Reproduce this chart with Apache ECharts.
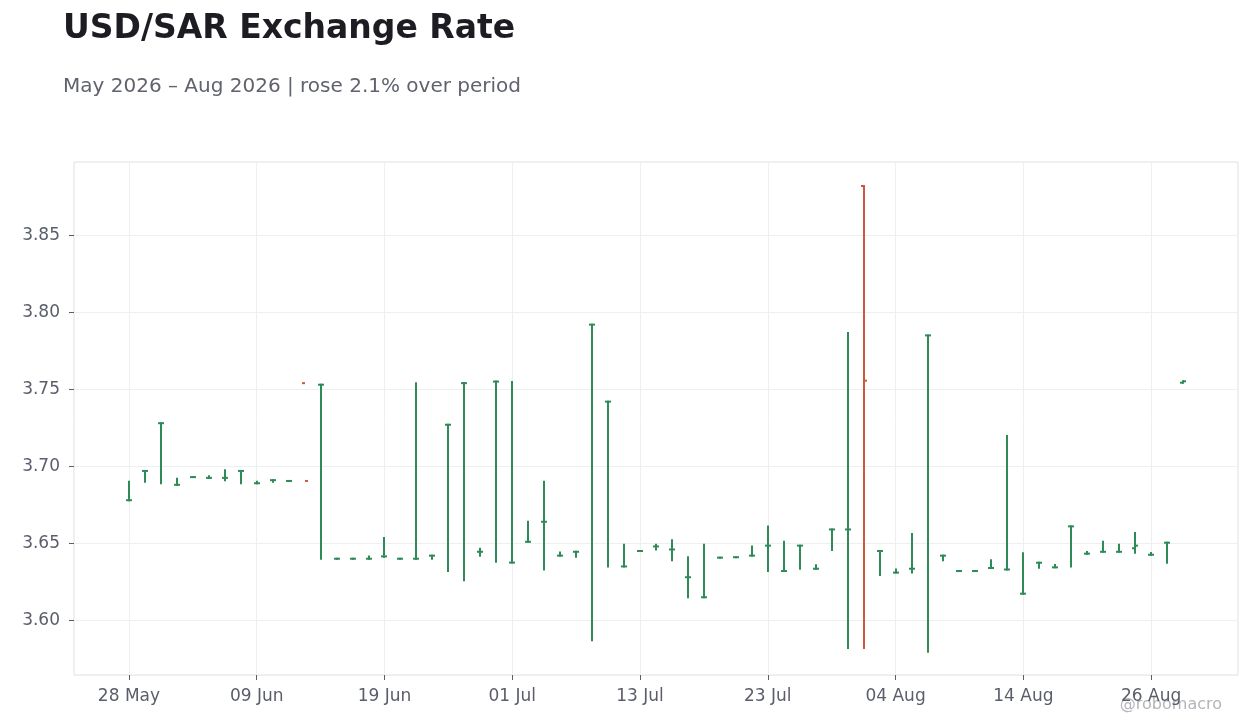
<!DOCTYPE html>
<html>
<head>
<meta charset="utf-8">
<title>USD/SAR Exchange Rate</title>
<script src="https://cdn.jsdelivr.net/npm/echarts@6/dist/echarts.min.js"></script>
<style>
    html, body { margin: 0; padding: 0; background: #ffffff; }
    #chart { width: 1260px; height: 728px; }
</style>
</head>
<body>
<div id="chart"></div>
<script>
// trading days (business days only)
const dates = [
    '2026-05-28', '2026-05-29', '2026-06-01', '2026-06-02', '2026-06-03', '2026-06-04', '2026-06-05',
    '2026-06-08', '2026-06-09', '2026-06-10', '2026-06-11', '2026-06-12', '2026-06-15', '2026-06-16',
    '2026-06-17', '2026-06-18', '2026-06-19', '2026-06-22', '2026-06-23', '2026-06-24', '2026-06-25',
    '2026-06-26', '2026-06-29', '2026-06-30', '2026-07-01', '2026-07-02', '2026-07-03', '2026-07-06',
    '2026-07-07', '2026-07-08', '2026-07-09', '2026-07-10', '2026-07-13', '2026-07-14', '2026-07-15',
    '2026-07-16', '2026-07-17', '2026-07-20', '2026-07-21', '2026-07-22', '2026-07-23', '2026-07-24',
    '2026-07-27', '2026-07-28', '2026-07-29', '2026-07-30', '2026-07-31', '2026-08-03', '2026-08-04',
    '2026-08-05', '2026-08-06', '2026-08-07', '2026-08-10', '2026-08-11', '2026-08-12', '2026-08-13',
    '2026-08-14', '2026-08-17', '2026-08-18', '2026-08-19', '2026-08-20', '2026-08-21', '2026-08-24',
    '2026-08-25', '2026-08-26', '2026-08-27', '2026-08-28'
];

const opens = [
    3.678, 3.697, 3.728, 3.688, 3.693, 3.6925, 3.6925,
    3.697, 3.689, 3.691, 3.6905, 3.754, 3.753, 3.640,
    3.640, 3.640, 3.6415, 3.640, 3.640, 3.642, 3.727,
    3.754, 3.6445, 3.755, 3.6375, 3.651, 3.664, 3.642,
    3.6445, 3.792, 3.742, 3.635, 3.645, 3.648, 3.646,
    3.628, 3.615, 3.6407, 3.641, 3.642, 3.6485, 3.632,
    3.6485, 3.6335, 3.659, 3.659, 3.882, 3.645, 3.631,
    3.6335, 3.785, 3.642, 3.632, 3.632, 3.634, 3.633,
    3.6173, 3.6374, 3.6344, 3.661, 3.6433, 3.6445, 3.6445,
    3.6468, 3.6426, 3.6504, 3.7543
];

const highs = [
    3.690, 3.697, 3.728, 3.692, 3.693, 3.6935, 3.6975,
    3.697, 3.690, 3.691, 3.6905, null, 3.753, 3.640,
    3.640, 3.6415, 3.6535, 3.640, 3.754, 3.642, 3.727,
    3.754, 3.6465, 3.755, 3.7547, 3.664, 3.690, 3.644,
    3.6445, 3.792, 3.742, 3.649, 3.645, 3.649, 3.652,
    3.641, 3.649, 3.6407, 3.641, 3.648, 3.661, 3.651,
    3.6485, 3.6357, 3.659, 3.7865, 3.882, 3.645, 3.633,
    3.656, 3.785, 3.642, 3.632, 3.632, 3.639, 3.7197,
    3.6435, 3.6374, 3.636, 3.661, 3.6444, 3.651, 3.649,
    3.6567, 3.6437, 3.6504, 3.7552
];

const lows = [
    3.678, 3.690, 3.689, 3.688, 3.693, 3.6925, 3.691,
    3.689, 3.689, 3.690, 3.6905, null, 3.640, 3.640,
    3.640, 3.640, 3.6413, 3.640, 3.640, 3.640, 3.632,
    3.626, 3.642, 3.638, 3.6375, 3.651, 3.633, 3.642,
    3.6413, 3.587, 3.635, 3.635, 3.645, 3.646, 3.639,
    3.615, 3.615, 3.6407, 3.641, 3.642, 3.632, 3.632,
    3.6335, 3.6335, 3.6457, 3.582, 3.582, 3.6295, 3.631,
    3.631, 3.5796, 3.639, 3.632, 3.632, 3.634, 3.633,
    3.6173, 3.6342, 3.6344, 3.635, 3.6433, 3.6445, 3.6445,
    3.6439, 3.6426, 3.6374, 3.7543
];

const closes = [
    3.678, 3.697, 3.728, 3.688, 3.693, 3.6925, 3.6925,
    3.697, 3.689, 3.691, 3.6905, 3.6905, 3.753, 3.640,
    3.640, 3.640, 3.6415, 3.640, 3.640, 3.642, 3.727,
    3.754, 3.6445, 3.755, 3.6375, 3.651, 3.664, 3.642,
    3.6445, 3.792, 3.742, 3.635, 3.645, 3.648, 3.646,
    3.628, 3.615, 3.6407, 3.641, 3.642, 3.6485, 3.632,
    3.6485, 3.6335, 3.659, 3.659, 3.7556, 3.645, 3.631,
    3.6335, 3.785, 3.642, 3.632, 3.632, 3.634, 3.633,
    3.6173, 3.6374, 3.6344, 3.661, 3.6433, 3.6445, 3.6445,
    3.6485, 3.6426, 3.6504, 3.7552
];

// axis ticks
const xTickIdx = [0, 8, 16, 24, 32, 40, 48, 56, 64];
const yTicks = [3.60, 3.65, 3.70, 3.75, 3.80, 3.85];

const UP = '#2e8b57';
const DOWN = '#cb5a3c';
const FONT = 'DejaVu Sans';
const MONTHS = ['Jan', 'Feb', 'Mar', 'Apr', 'May', 'Jun', 'Jul', 'Aug', 'Sep', 'Oct', 'Nov', 'Dec'];

function dateLabel(i) {
    let d = dates[i];
    if (!d) return '';
    let parts = d.split('-');
    return parts[2] + ' ' + MONTHS[Number(parts[1]) - 1];
}

let seriesData = [];
for (let i = 0; i < dates.length; i++) {
    seriesData.push([i, opens[i], closes[i], lows[i] == null ? '-' : lows[i], highs[i] == null ? '-' : highs[i]]);
}

// OHLC bar: wick low->high, open tick left, close tick right
function renderOhlc(params, api) {
    let i = api.value(0);
    let o = api.value(1);
    let c = api.value(2);
    let l = api.value(3);
    let h = api.value(4);
    let color = c >= o ? UP : DOWN;
    let pO = api.coord([i, o]);
    let pC = api.coord([i, c]);
    let x = Math.round(pO[0]);
    let tick = 3;
    let children = [];

    if (!isNaN(l) && !isNaN(h)) {
        let pL = api.coord([i, l]);
        let pH = api.coord([i, h]);
        children.push({
            type: 'line',
            shape: { x1: x, y1: pH[1] - 1, x2: x, y2: pL[1] + 1 },
            style: { stroke: color, lineWidth: 2 }
        });
    }
    children.push({
        type: 'line',
        shape: { x1: x - tick, y1: pO[1], x2: x, y2: pO[1] },
        style: { stroke: color, lineWidth: 2 }
    });
    children.push({
        type: 'line',
        shape: { x1: x, y1: pC[1], x2: x + tick, y2: pC[1] },
        style: { stroke: color, lineWidth: 2 }
    });
    return { type: 'group', children: children };
}

let option = {
    backgroundColor: '#ffffff',
    animation: false,
    textStyle: { fontFamily: FONT },
    title: [{
        text: 'USD/SAR Exchange Rate',
        left: 58,
        top: 8,
        textStyle: { fontFamily: FONT, fontSize: 33, fontWeight: 'bold', color: '#1c1c22' }
    }, {
        text: 'May 2026 \u2013 Aug 2026 | rose 2.1% over period',
        left: 58,
        top: 72,
        textStyle: { fontFamily: FONT, fontSize: 20, fontWeight: 'normal', color: '#60636e' }
    }],
    graphic: [{
        type: 'text',
        right: 38,
        top: 697,
        style: { text: '@robomacro', fontFamily: FONT, fontSize: 16, fill: '#b3b5bb' }
    }],
    grid: {
        left: 74,
        right: 22,
        top: 162,
        bottom: 53,
        show: true,
        borderColor: '#e0e0e0',
        borderWidth: 1
    },
    xAxis: {
        type: 'value',
        min: -3.44,
        max: 69.44,
        axisLine: { show: false, onZero: false },
        axisTick: {
            show: true,
            length: 5,
            customValues: xTickIdx,
            lineStyle: { color: '#5a5e6a' }
        },
        axisLabel: {
            customValues: xTickIdx,
            margin: 13.5,
            fontSize: 17,
            color: '#5a5e6a',
            fontFamily: FONT,
            formatter: function (v) { return dateLabel(Math.round(v)); }
        },
        splitLine: { show: true, lineStyle: { color: '#efefef', width: 1 } }
    },
    yAxis: {
        type: 'value',
        min: 3.5645,
        max: 3.8976,
        axisLine: { show: false, onZero: false },
        axisTick: {
            show: true,
            length: 5,
            customValues: yTicks,
            lineStyle: { color: '#5a5e6a' }
        },
        axisLabel: {
            customValues: yTicks,
            margin: 14,
            fontSize: 17,
            color: '#5a5e6a',
            fontFamily: FONT,
            formatter: function (v) { return v.toFixed(2); }
        },
        splitLine: { show: true, lineStyle: { color: '#efefef', width: 1 } }
    },
    series: [{
        type: 'custom',
        renderItem: renderOhlc,
        encode: { x: 0, y: [1, 2, 3, 4] },
        data: seriesData,
        clip: true
    }]
};

echarts.init(document.getElementById('chart')).setOption(option);
</script>
</body>
</html>
